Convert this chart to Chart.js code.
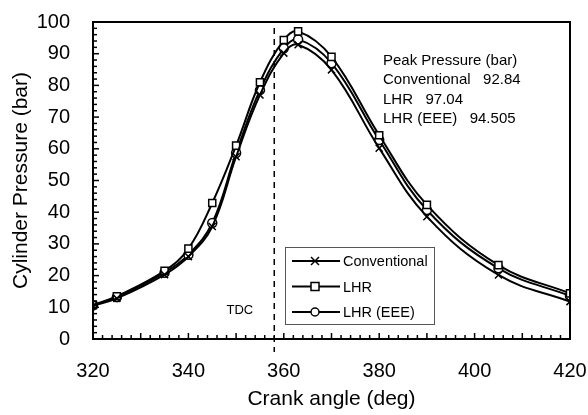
<!DOCTYPE html>
<html>
<head>
<meta charset="utf-8">
<script src="https://cdn.jsdelivr.net/npm/chart.js@4.4.0/dist/chart.umd.min.js"></script>
<style>
  body { margin: 0; background: #fff; }
  #wrap { width: 588px; height: 415px; }
</style>
</head>
<body>
<div id="wrap"><canvas id="pressure-Chart" width="588" height="415"></canvas></div>
<script>
const crankAngle = [320, 325, 335, 340, 345, 350, 355, 360, 363, 370, 380, 390, 405, 420];
const conventional = [10.5, 12.8, 20.3, 26.0, 35.5, 57.5, 77.0, 90.2, 92.84, 84.9, 60.2, 38.6, 20.2, 11.8];
const lhr = [10.7, 13.5, 21.5, 28.5, 42.9, 61.0, 81.0, 94.3, 97.04, 89.0, 64.3, 42.3, 23.3, 14.4];
const lhrEEE = [10.6, 13.2, 20.9, 26.6, 36.6, 58.7, 78.5, 91.7, 94.505, 87.0, 62.8, 40.7, 22.3, 13.6];
const xTicks = [320, 340, 360, 380, 400, 420];
const tdcAngle = 358;
const peakLines = ['Peak Pressure (bar)', 'Conventional   92.84', 'LHR   97.04', 'LHR (EEE)   94.505'];

const font = 'Liberation Sans, Arial, sans-serif';

function pts(ys) {
    return crankAngle.map((x, i) => ({ x: x, y: ys[i] }));
}

// box, inward ticks, TDC line, notes and legend
const decor = {
    id: 'decor',
    afterDatasetsDraw(chart) {
        const c = chart.ctx;
        const a = chart.chartArea;
        const xs = chart.scales.x, ys = chart.scales.y;
        c.save();
        c.strokeStyle = '#000';
        c.lineWidth = 1.5;
        for (let v = 322; v < 420; v += 2) {
            const px = xs.getPixelForValue(v);
            const len = v % 10 === 0 ? 6 : 4;
            c.beginPath(); c.moveTo(px, a.bottom); c.lineTo(px, a.bottom - len); c.stroke();
        }
        for (let v = 2; v < 100; v += 2) {
            const py = ys.getPixelForValue(v);
            const len = v % 10 === 0 ? 6 : 4;
            c.beginPath(); c.moveTo(a.left, py); c.lineTo(a.left + len, py); c.stroke();
        }
        c.lineWidth = 2;
        c.strokeRect(a.left, a.top, a.right - a.left, a.bottom - a.top);

        // TDC
        const tx = xs.getPixelForValue(tdcAngle);
        c.lineWidth = 1.5;
        c.setLineDash([6, 5]);
        c.beginPath(); c.moveTo(tx, a.top + 6); c.lineTo(tx, a.bottom + 13); c.stroke();
        c.setLineDash([]);
        c.fillStyle = '#000';
        c.font = '13px ' + font;
        c.textBaseline = 'middle';
        c.textAlign = 'right';
        c.fillText('TDC', tx - 21, 310);

        // peak pressure note
        c.textAlign = 'left';
        c.font = '15px ' + font;
        peakLines.forEach((t, i) => c.fillText(t, 383, 61 + i * 19.3));

        // legend
        const bx = 285, by = 247, bw = 149, bh = 77;
        c.lineWidth = 1;
        c.strokeStyle = '#555';
        c.fillStyle = '#fff';
        c.fillRect(bx, by, bw, bh);
        c.strokeRect(bx + 0.5, by + 0.5, bw, bh);
        c.font = '14.5px ' + font;
        chart.data.datasets.forEach((ds, i) => {
            const ly = by + 14 + i * 25.5;
            c.strokeStyle = '#000';
            c.lineWidth = 2;
            c.beginPath(); c.moveTo(bx + 7, ly); c.lineTo(bx + 55, ly); c.stroke();
            c.lineWidth = 1.5;
            const mx = bx + 30;
            if (ds.pointStyle === 'crossRot') {
                c.beginPath();
                c.moveTo(mx - 4, ly - 4); c.lineTo(mx + 4, ly + 4);
                c.moveTo(mx + 4, ly - 4); c.lineTo(mx - 4, ly + 4);
                c.stroke();
            } else if (ds.pointStyle === 'rect') {
                c.fillStyle = '#fff';
                c.fillRect(mx - 4, ly - 4, 8, 8);
                c.strokeRect(mx - 4, ly - 4, 8, 8);
            } else {
                c.fillStyle = '#fff';
                c.beginPath(); c.arc(mx, ly, 4, 0, Math.PI * 2); c.fill(); c.stroke();
            }
            c.fillStyle = '#000';
            c.fillText(ds.label, bx + 58, ly + 1);
        });
        c.restore();
    }
};

const ctx = document.getElementById('pressure-Chart').getContext('2d');
const myChart = new Chart(ctx, {
    type: 'line',
    data: {
        datasets: [{
            label: 'Conventional',
            data: pts(conventional),
            borderColor: '#000',
            backgroundColor: '#fff',
            borderWidth: 2,
            pointStyle: 'crossRot',
            pointRadius: 5,
            pointBorderWidth: 1.5,
            tension: 0.4
        },
        {
            label: 'LHR',
            data: pts(lhr),
            borderColor: '#000',
            backgroundColor: '#fff',
            borderWidth: 2,
            pointStyle: 'rect',
            pointRadius: 5,
            pointBorderWidth: 1.5,
            tension: 0.4
        },
        {
            label: 'LHR (EEE)',
            data: pts(lhrEEE),
            borderColor: '#000',
            backgroundColor: '#fff',
            borderWidth: 2,
            pointStyle: 'circle',
            pointRadius: 4.5,
            pointBorderWidth: 1.5,
            tension: 0.4
        }]
    },
    options: {
        responsive: false,
        animation: false,
        layout: { padding: { left: 0, right: 18, top: 22, bottom: 0 } },
        plugins: {
            legend: { display: false },
            tooltip: { enabled: false }
        },
        scales: {
            x: {
                type: 'linear',
                min: 320,
                max: 420,
                afterBuildTicks: s => { s.ticks = xTicks.map(v => ({ value: v })); },
                afterFit: s => { s.height = 76; s.paddingRight = 0; s.paddingLeft = 0; },
                grid: { display: false },
                border: { display: false },
                ticks: { color: '#000', font: { family: font, size: 20 }, padding: 12, maxRotation: 0 },
                title: { display: true, text: 'Crank angle (deg)', color: '#000', font: { family: font, size: 21 }, padding: { top: 0, bottom: 3 } }
            },
            y: {
                min: 0,
                max: 100,
                afterFit: s => { s.width = 93; s.paddingTop = 0; s.paddingBottom = 0; },
                grid: { display: false },
                border: { display: false },
                ticks: { stepSize: 10, color: '#000', font: { family: font, size: 20 }, padding: 15 },
                title: { display: true, text: 'Cylinder Pressure (bar)', color: '#000', font: { family: font, size: 21 }, padding: { top: 9, bottom: 0 } }
            }
        }
    },
    plugins: [decor]
});
</script>
</body>
</html>
